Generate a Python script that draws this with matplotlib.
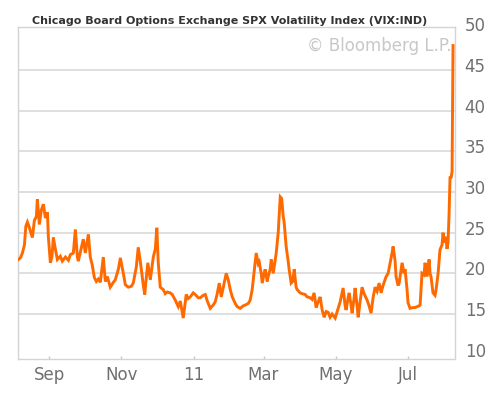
import numpy as np
import pandas as pd
import matplotlib
matplotlib.use("Agg")
import matplotlib.pyplot as plt
import matplotlib.dates as mdates
from matplotlib.transforms import ScaledTranslation

title = "Chicago Board Options Exchange SPX Volatility Index (VIX:IND)"
watermark = "\u00a9 Bloomberg L.P."
start_date = "2010-08-05"

# days since start_date
days = [1.0, 2.7, 4.4, 6.1, 7.3, 8.6, 10.3, 12.0, 12.8, 14.5, 16.2, 17.0, 18.7, 20.4, 22.1,
        23.8, 25.5, 26.3, 28.0, 29.3, 30.5, 32.2, 33.9, 36.4, 38.1, 40.7, 43.2, 44.9, 47.4,
        49.1, 50.8, 51.6, 53.3, 55.8, 57.5, 60.1, 61.7, 63.4, 65.1, 66.8, 68.5, 70.2, 72.7,
        74.4, 76.1, 78.6, 81.2, 82.8, 85.4, 87.1, 89.6, 91.3, 93.8, 96.3, 98.0, 100.6, 102.2,
        103.9, 104.8, 106.5, 107.7, 109.0, 110.3, 112.4, 114.9, 116.6, 117.9, 119.1, 120.8,
        123.3, 125.0, 126.7, 129.2, 130.9, 133.5, 136.0, 137.7, 140.2, 141.5, 142.7, 144.4,
        146.1, 148.6, 150.3, 152.9, 154.6, 157.1, 158.8, 160.5, 163.0, 165.5, 167.2, 168.9,
        170.6, 172.3, 174.0, 176.5, 178.2, 179.9, 181.6, 184.1, 185.8, 188.3, 190.8, 192.5,
        195.1, 196.7, 198.4, 199.3, 201.8, 203.5, 204.3, 206.0, 206.9, 208.5, 209.4, 211.1,
        211.9, 213.6, 214.5, 216.2, 217.0, 218.7, 220.4, 222.1, 223.3, 224.6, 225.4, 227.1,
        228.8, 229.6, 231.3, 232.6, 233.9, 235.5, 236.4, 238.9, 240.6, 243.1, 244.8, 247.4,
        249.0, 250.7, 252.4, 254.1, 255.8, 257.5, 259.2, 260.9, 262.6, 264.2, 265.9, 268.5,
        270.2, 272.7, 275.2, 276.9, 277.7, 279.4, 280.3, 282.0, 282.8, 284.5, 285.3, 287.0,
        287.9, 289.5, 291.2, 292.9, 295.5, 297.1, 298.8, 300.5, 302.2, 303.9, 305.6, 307.3,
        308.9, 311.5, 313.2, 314.9, 316.5, 317.4, 319.1, 319.9, 321.6, 322.5, 324.2, 325.0,
        326.7, 327.5, 329.2, 330.0, 331.7, 334.3, 336.0, 337.6, 339.3, 340.2, 341.0, 341.8,
        343.5, 344.4, 346.1, 347.8, 348.6, 349.4, 351.1, 352.8, 353.7, 355.4, 356.2, 357.0,
        358.7, 359.6, 360.4, 361.3, 362.1, 362.9, 363.8, 364.6, 365.5, 366.3, 367.2, 368.0]

vix = [21.7, 21.9, 22.5, 23.5, 25.8, 26.3, 25.6, 24.8, 24.4, 26.5, 27.0, 29.1, 26.0, 27.8, 28.5,
       26.8, 27.5, 24.5, 21.3, 22.0, 24.4, 23.0, 21.7, 22.1, 21.5, 22.0, 21.6, 22.3, 22.5,
       25.4, 22.0, 21.5, 22.6, 24.2, 22.5, 24.8, 22.0, 21.0, 19.5, 19.0, 19.3, 18.9, 22.0,
       19.0, 19.6, 18.3, 18.9, 19.2, 20.5, 21.9, 20.0, 18.6, 18.3, 18.4, 18.8, 20.8, 23.2,
       21.5, 20.5, 18.5, 17.4, 19.5, 21.3, 19.2, 22.0, 23.0, 25.6, 21.3, 18.3,
       18.0, 17.5, 17.7, 17.6, 17.4, 16.7, 15.9, 16.6, 14.5, 16.0, 17.4, 16.9,
       17.1, 17.6, 17.4, 17.0, 17.0, 17.3, 17.4, 16.6, 15.7, 16.1, 16.5, 17.5,
       18.8, 17.1, 18.3, 20.0, 19.2, 18.0, 17.1, 16.3, 15.9, 15.7, 16.0, 16.1,
       16.3, 16.7, 18.0, 19.2, 22.5, 21.2, 21.4, 20.0, 18.8, 20.0, 20.5, 19.0,
       19.6, 20.5, 21.7, 20.0, 20.8, 22.5, 25.0, 29.4, 29.2, 27.0, 26.3, 23.3,
       21.5, 20.5, 18.8, 19.0, 20.5, 18.3, 18.0, 17.6, 17.5, 17.4, 17.1, 17.0,
       16.8, 17.6, 15.8, 16.5, 17.1, 15.5, 14.6, 15.3, 15.2, 14.6, 15.0, 14.5,
       15.3, 16.5, 18.2, 16.0, 15.5, 17.0, 17.6, 16.0, 15.1, 17.0, 18.2, 16.0,
       14.6, 16.5, 18.3, 17.5, 16.7, 16.0, 15.1, 17.0, 18.3, 17.8, 18.8, 17.6,
       18.5, 19.6, 20.0, 21.3, 22.5, 23.3, 21.5, 19.6, 18.5, 18.8, 20.5, 21.3,
       20.0, 20.5, 18.0, 16.4, 15.7, 15.8, 15.8, 15.9, 16.0, 16.1, 18.0, 20.0,
       19.8, 21.3, 19.6, 21.7, 20.0, 19.6, 17.6, 17.3, 18.0, 20.0, 21.5, 22.9,
       23.5, 25.0, 23.8, 24.0, 24.5, 23.0, 23.8, 27.0, 31.9, 31.7, 32.5, 48.0]

xtick_dates = ["2010-09-01", "2010-11-01", "2011-01-01", "2011-03-01", "2011-05-01", "2011-07-01"]
xtick_labels = ["Sep", "Nov", "11", "Mar", "May", "Jul"]
ytick_values = [10, 15, 20, 25, 30, 35, 40, 45, 50]

dates = pd.Timestamp(start_date) + pd.to_timedelta(days, unit="D")

fig = plt.figure(figsize=(5.0, 3.94), dpi=100)
ax = fig.add_axes([0.036, 0.0888, 0.874, 0.8427])

orange = "#ff6a00"
grid_c = "#dcdcdc"
txt_c = "#707070"

ax.plot(dates, vix, color=orange, lw=2.1, solid_joinstyle="miter", zorder=3)

ax.set_xlim(pd.Timestamp("2010-08-05 16:00"), pd.Timestamp("2011-08-09 16:00"))
ax.set_ylim(9.47, 50.28)

for s in ax.spines.values():
    s.set_color("#d4d4d4")
    s.set_linewidth(1.0)

ax.set_yticks(ytick_values)
ax.set_yticklabels([str(v) for v in ytick_values])
ax.yaxis.tick_right()
ax.tick_params(axis="y", length=0, pad=7, labelsize=12, labelcolor=txt_c)
ax.yaxis.grid(True, color=grid_c, lw=1.3)
gl = ax.get_ygridlines()
gl[0].set_visible(False)
gl[-1].set_visible(False)
for lab in ax.get_yticklabels():
    lab.set_transform(lab.get_transform() + ScaledTranslation(0, 3.5 / 72, fig.dpi_scale_trans))

ax.set_xticks(pd.to_datetime(xtick_dates))
ax.set_xticklabels(xtick_labels)
ax.tick_params(axis="x", direction="in", length=2, width=1, color="#c8c8c8",
               pad=5, labelsize=12, labelcolor=txt_c)
ax.get_xticklines()[4].set_color(orange)

ax.text(0.993, 0.943, watermark, transform=ax.transAxes, ha="right", va="center",
        fontsize=12, color="#c8c8c8", zorder=2)

fig.text(0.46, 0.947, title, ha="center", va="center", fontsize=8.0,
         fontweight="bold", color="#333333")

fig.savefig("out.png", dpi=100, facecolor="white")
